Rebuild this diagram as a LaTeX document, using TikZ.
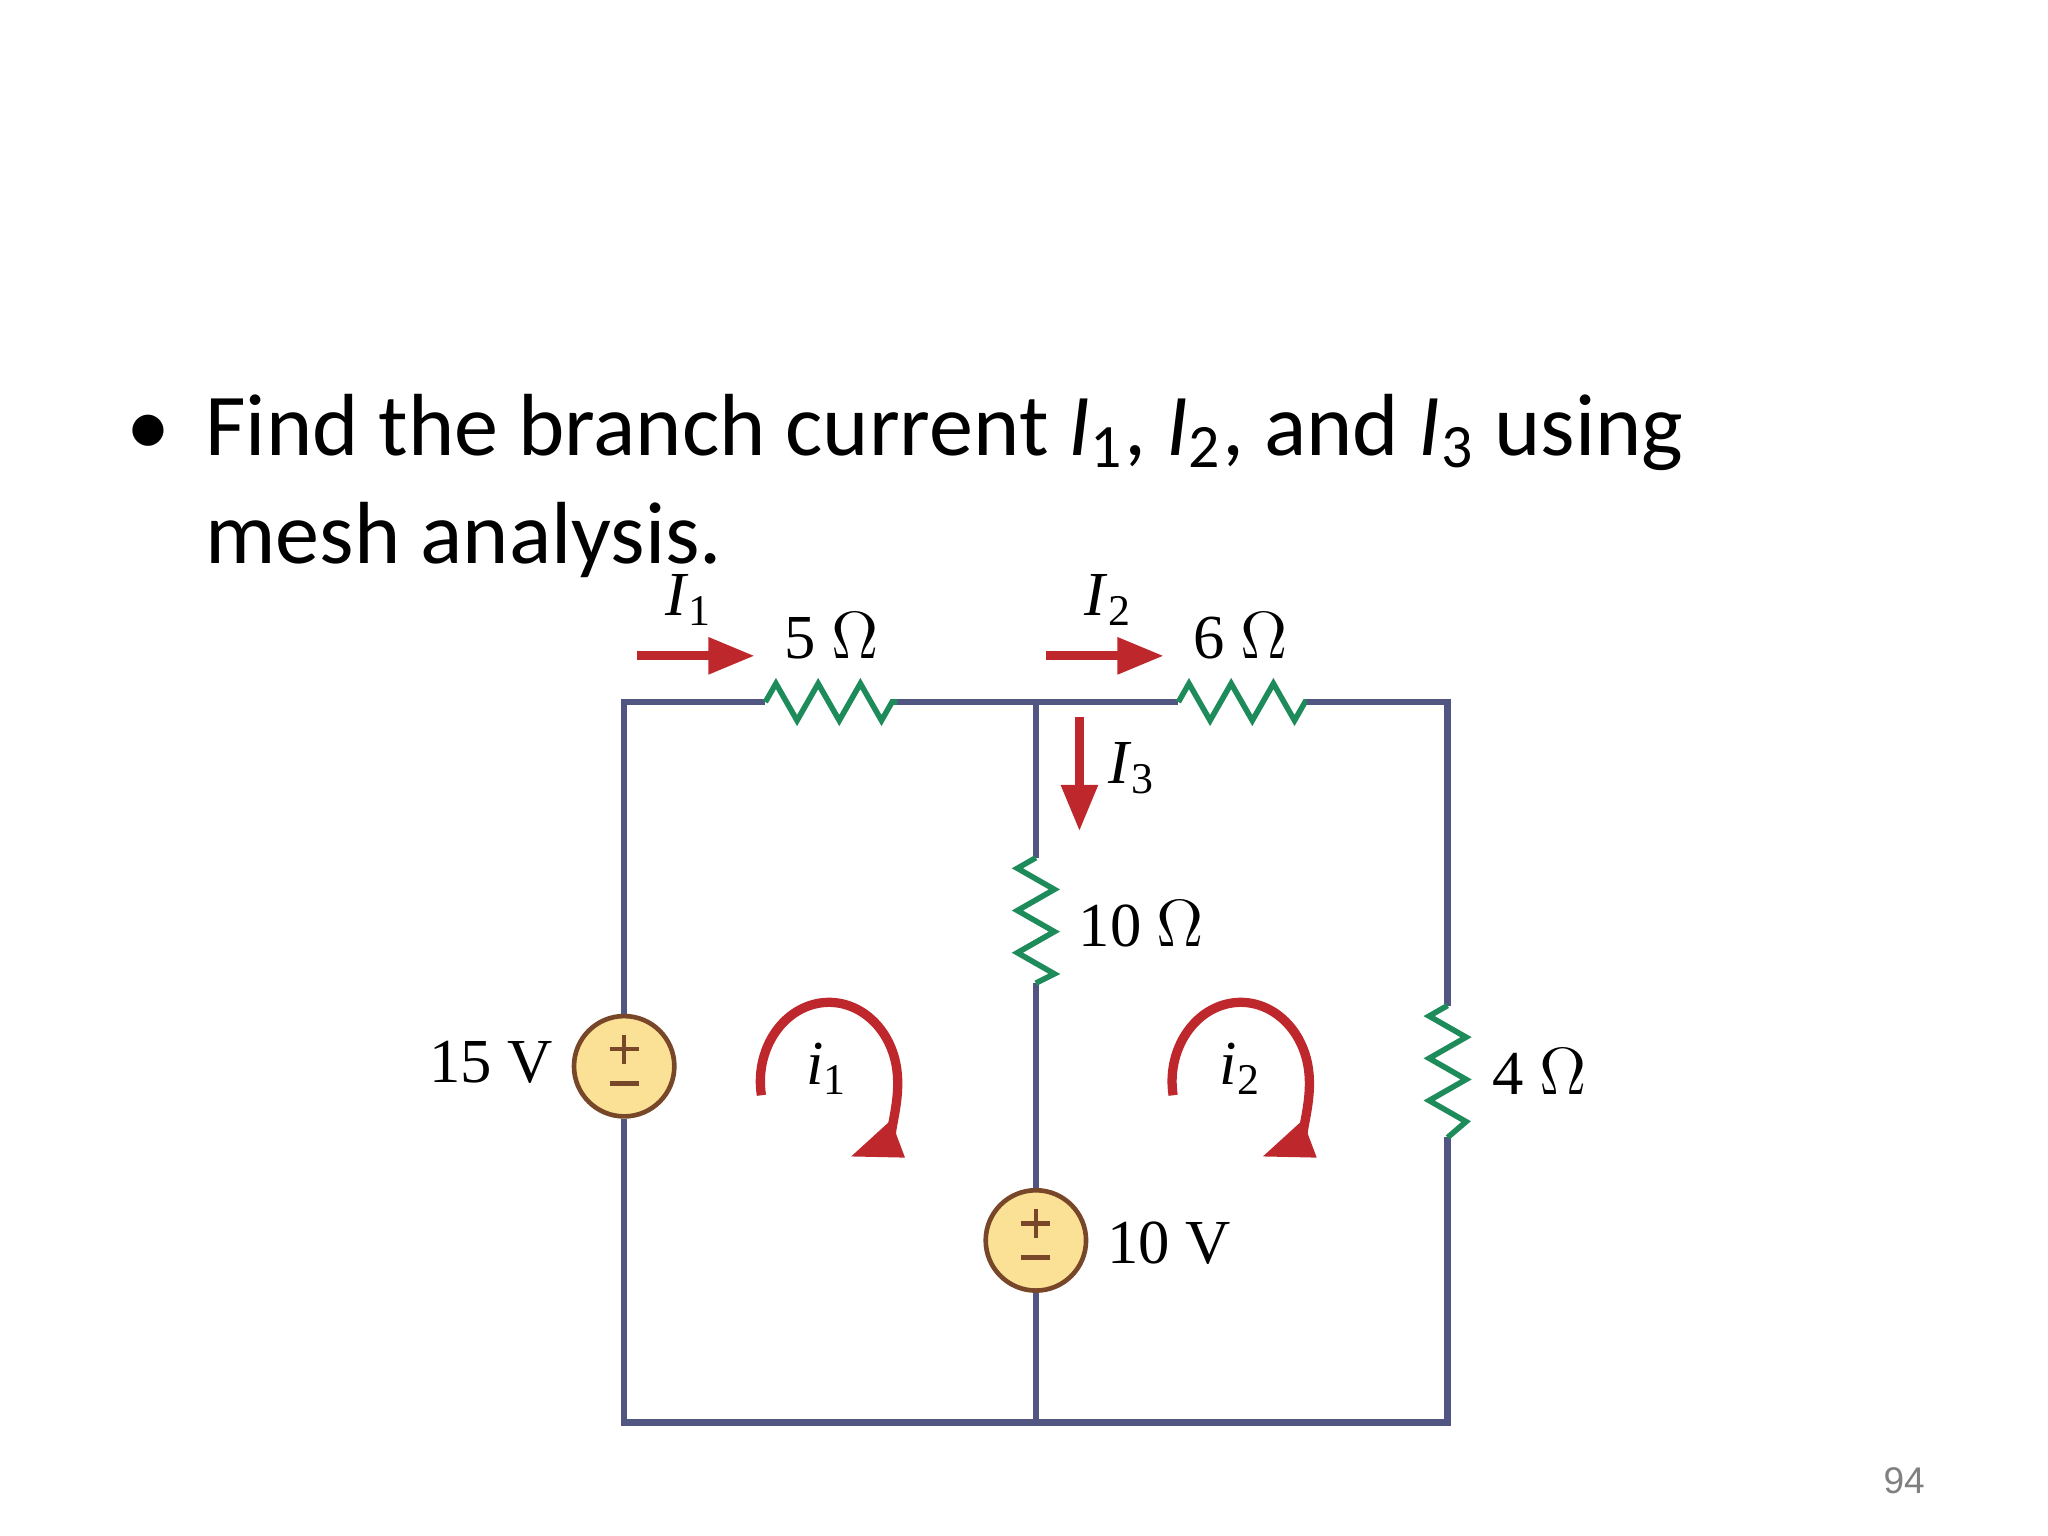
\documentclass[tikz,border=0pt]{standalone}
\usepackage{fontspec}
\setmainfont{Liberation Serif}
\newfontfamily\titlefont{Carlito}
\newfontfamily\numfont{Liberation Sans}
\usetikzlibrary{arrows.meta}
\definecolor{wire}{RGB}{80,85,130}
\definecolor{res}{RGB}{30,140,90}
\definecolor{arr}{RGB}{190,40,45}
\definecolor{src}{RGB}{250,225,150}
\definecolor{srcb}{RGB}{120,70,40}
\newcommand{\sbs}[1]{\textsubscript{#1}}
\begin{document}
\begin{tikzpicture}[x=0.01cm,y=-0.01cm,
  w/.style={draw=wire,line width=1.4pt},
  r/.style={draw=res,line width=1.2pt},
  ia/.style={draw=arr,line width=2pt,-{Triangle[length=10pt,width=7.5pt]}},
  la/.style={draw=arr,line width=2pt,-{Triangle[length=11pt,width=8pt]}},
  lab/.style={font=\fontsize{13.5}{14}\selectfont,inner sep=0},
  s/.style={circle,draw=srcb,fill=src,line width=1pt,minimum size=0.76cm,inner sep=0}]
\useasboundingbox (0,0) rectangle (1552,1164);
\node[font=\titlefont\fontsize{19}{22}\selectfont,anchor=base west,inner sep=0] at (95,345) {\textbullet};
\node[font=\titlefont\fontsize{19}{22}\selectfont,anchor=base west,inner sep=0] at (155,345) {Find the branch current \textit{I}\sbs{1}, \textit{I}\sbs{2}, and \textit{I}\sbs{3} using};
\node[font=\titlefont\fontsize{19}{22}\selectfont,anchor=base west,inner sep=0] at (155,427) {mesh analysis.};
% nodes
\coordinate (tl) at (473,532); \coordinate (tm) at (785,532); \coordinate (tr) at (1097,532);
\coordinate (bl) at (473,1078); \coordinate (bm) at (785,1078); \coordinate (br) at (1097,1078);
\node[s] (v1) at (473,808) {};
\node[s] (v2) at (785,940) {};
\foreach \v in {v1,v2}{
  \draw[srcb,line width=1pt] (\v.center) ++(-11,-13) -- ++(22,0);
  \draw[srcb,line width=1pt] (\v.center) ++(0,-24) -- ++(0,22);
  \draw[srcb,line width=1pt] (\v.center) ++(-11,13) -- ++(22,0);}
% wires
\draw[w] (v1.north) -- (tl) -- (580,532);
\draw[w] (680,532) -- (893,532);
\draw[w] (990,532) -- (tr) -- (1097,762);
\draw[w] (1097,862) -- (br) -- (bl) -- (v1.south);
\draw[w] (tm) -- (785,650);
\draw[w] (785,745) -- (v2.north);
\draw[w] (v2.south) -- (bm);
% resistors
\draw[r] (580,532) -- (588,518) -- (604,546) -- (620,518) -- (636,546) -- (652,518) -- (668,546) -- (676,532) -- (680,532);
\draw[r] (893,532) -- (901,518) -- (917,546) -- (933,518) -- (949,546) -- (965,518) -- (981,546) -- (989,532) -- (990,532);
\draw[r] (785,650) -- (771,658) -- (799,674) -- (771,690) -- (799,706) -- (771,722) -- (799,738) -- (785,745);
\draw[r] (1097,762) -- (1083,770) -- (1111,786) -- (1083,802) -- (1111,818) -- (1083,834) -- (1111,850) -- (1097,862);
% current arrows
\coordinate (a1s) at (483,497); \coordinate (a1e) at (572,497);
\coordinate (a2s) at (793,497); \coordinate (a2e) at (882,497);
\coordinate (a3s) at (818,543); \coordinate (a3e) at (818,630);
\draw[ia] (a1s) -- (a1e); \draw[ia] (a2s) -- (a2e); \draw[ia] (a3s) -- (a3e);
\draw[la] (577,830) arc[start angle=170,end angle=432,x radius=52,y radius=60];
\draw[la] (889,830) arc[start angle=170,end angle=432,x radius=52,y radius=60];
% labels
\node[lab] at (522,455) {\textit{I}\sbs{1}};
\node[lab] at (630,482) {5 $\Omega$};
\node[lab] at (840,455) {\textit{I}\sbs{2}};
\node[lab] at (940,482) {6 $\Omega$};
\node[lab] at (858,582) {\textit{I}\sbs{3}};
\node[lab] at (865,700) {10 $\Omega$};
\node[lab] at (372,805) {15 V};
\node[lab] at (1167,812) {4 $\Omega$};
\node[lab] at (886,942) {10 V};
\node[lab] at (627,810) {\textit{i}\sbs{1}};
\node[lab] at (940,810) {\textit{i}\sbs{2}};
\node[font=\numfont\fontsize{8}{8}\selectfont,text=gray] at (1443,1122) {94};
\end{tikzpicture}
\end{document}
